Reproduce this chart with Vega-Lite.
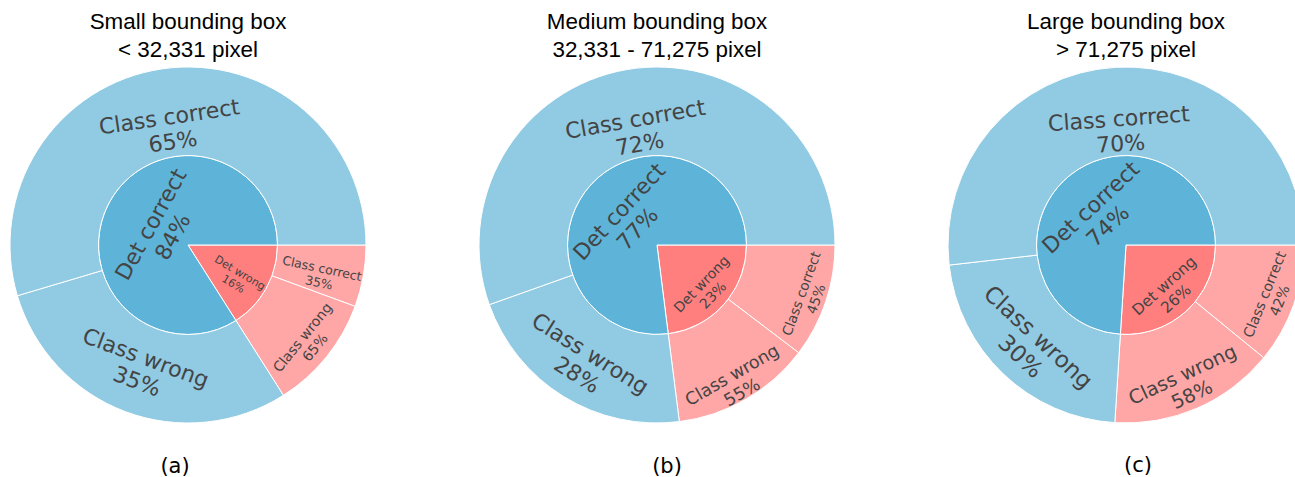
{
  "$schema": "https://vega.github.io/schema/vega-lite/v6.json",
  "background": "white",
  "padding": {"top": 10, "left": 5, "right": 5, "bottom": 5},
  "config": {
    "view": {"stroke": null},
    "title": {"font": "DejaVu Sans", "fontSize": 21, "fontWeight": "normal", "color": "#000", "offset": 31, "anchor": "middle", "orient": "bottom"},
    "header": {"labels": false, "titleOrient": "top", "titleFont": "Liberation Sans", "titleFontSize": 22.4, "titleFontWeight": "normal", "titleColor": "#000", "titleLineHeight": 28, "titlePadding": -6},
    "text": {"font": "DejaVu Sans", "color": "#444", "lineBreak": "\n", "align": "center", "baseline": "middle"}
  },
  "datasets": {
    "rows": [
      {"panel": "a", "caption": "(a)", "ring": "inner", "key": "a-dw", "ord": 1, "branch": "Det wrong", "share": 16, "label": "Det wrong\n16%"},
      {"panel": "a", "caption": "(a)", "ring": "inner", "key": "a-dc", "ord": 2, "branch": "Det correct", "share": 84, "label": "Det correct\n84%"},
      {"panel": "a", "caption": "(a)", "ring": "outer", "key": "a-dw-cc", "ord": 1, "branch": "Det wrong", "share": 5.6, "label": "Class correct\n35%"},
      {"panel": "a", "caption": "(a)", "ring": "outer", "key": "a-dw-cw", "ord": 2, "branch": "Det wrong", "share": 10.4, "label": "Class wrong\n65%"},
      {"panel": "a", "caption": "(a)", "ring": "outer", "key": "a-dc-cw", "ord": 3, "branch": "Det correct", "share": 29.4, "label": "Class wrong\n35%"},
      {"panel": "a", "caption": "(a)", "ring": "outer", "key": "a-dc-cc", "ord": 4, "branch": "Det correct", "share": 54.6, "label": "Class correct\n65%"},
      {"panel": "b", "caption": "(b)", "ring": "inner", "key": "b-dw", "ord": 1, "branch": "Det wrong", "share": 23, "label": "Det wrong\n23%"},
      {"panel": "b", "caption": "(b)", "ring": "inner", "key": "b-dc", "ord": 2, "branch": "Det correct", "share": 77, "label": "Det correct\n77%"},
      {"panel": "b", "caption": "(b)", "ring": "outer", "key": "b-dw-cc", "ord": 1, "branch": "Det wrong", "share": 10.35, "label": "Class correct\n45%"},
      {"panel": "b", "caption": "(b)", "ring": "outer", "key": "b-dw-cw", "ord": 2, "branch": "Det wrong", "share": 12.65, "label": "Class wrong\n55%"},
      {"panel": "b", "caption": "(b)", "ring": "outer", "key": "b-dc-cw", "ord": 3, "branch": "Det correct", "share": 21.56, "label": "Class wrong\n28%"},
      {"panel": "b", "caption": "(b)", "ring": "outer", "key": "b-dc-cc", "ord": 4, "branch": "Det correct", "share": 55.44, "label": "Class correct\n72%"},
      {"panel": "c", "caption": "(c)", "ring": "inner", "key": "c-dw", "ord": 1, "branch": "Det wrong", "share": 26, "label": "Det wrong\n26%"},
      {"panel": "c", "caption": "(c)", "ring": "inner", "key": "c-dc", "ord": 2, "branch": "Det correct", "share": 74, "label": "Det correct\n74%"},
      {"panel": "c", "caption": "(c)", "ring": "outer", "key": "c-dw-cc", "ord": 1, "branch": "Det wrong", "share": 10.92, "label": "Class correct\n42%"},
      {"panel": "c", "caption": "(c)", "ring": "outer", "key": "c-dw-cw", "ord": 2, "branch": "Det wrong", "share": 15.08, "label": "Class wrong\n58%"},
      {"panel": "c", "caption": "(c)", "ring": "outer", "key": "c-dc-cw", "ord": 3, "branch": "Det correct", "share": 22.2, "label": "Class wrong\n30%"},
      {"panel": "c", "caption": "(c)", "ring": "outer", "key": "c-dc-cc", "ord": 4, "branch": "Det correct", "share": 51.8, "label": "Class correct\n70%"}
    ]
  },
  "data": {"name": "rows"},
  "spacing": 103,
  "hconcat": [
    {
      "title": {"text": "(a)", "dx": -13, "offset": 31},
      "transform": [{"filter": "datum.panel === 'a'"}],
      "facet": {"column": {"field": "caption", "type": "nominal", "title": ["Small bounding box", "< 32,331 pixel"]}},
      "spec": {
        "width": 366, "height": 356,
        "encoding": {
          "theta": {"field": "share", "type": "quantitative", "stack": true, "scale": {"domain": [0, 100], "range": [1.5707963268, 7.853981634]}},
          "order": {"field": "ord", "type": "quantitative", "sort": "ascending"}
        },
        "layer": [
          {"transform": [{"filter": "datum.ring === 'inner'"}], "mark": {"type": "arc", "radius": 89.5, "radius2": 0, "stroke": "#fff", "strokeWidth": 1},
           "encoding": {"color": {"field": "branch", "type": "nominal", "legend": null, "scale": {"domain": ["Det correct", "Det wrong"], "range": ["#5db4d8", "#ff7f7f"]}}}},
          {"transform": [{"filter": "datum.ring === 'outer'"}], "mark": {"type": "arc", "radius": 178, "radius2": 89.5, "stroke": "#fff", "strokeWidth": 1},
           "encoding": {"color": {"field": "branch", "type": "nominal", "legend": null, "scale": {"domain": ["Det correct", "Det wrong"], "range": ["#90cae3", "#ffa6a6"]}}}},
          {"transform": [{"filter": "datum.ring === 'inner'"}], "mark": {"type": "text", "radius": 42, "angle": -61, "fontSize": 22, "lineHeight": 25},
           "encoding": {"detail": {"field": "key"}, "text": {"condition": {"test": "datum.key === 'a-dc'", "field": "label"}, "value": ""}}},
          {"transform": [{"filter": "datum.ring === 'inner'"}], "mark": {"type": "text", "radius": 59, "angle": 31, "fontSize": 11, "lineHeight": 13},
           "encoding": {"detail": {"field": "key"}, "text": {"condition": {"test": "datum.key === 'a-dw'", "field": "label"}, "value": ""}}},
          {"transform": [{"filter": "datum.ring === 'outer'"}], "mark": {"type": "text", "radius": 129, "angle": -8.3, "fontSize": 22, "lineHeight": 25},
           "encoding": {"detail": {"field": "key"}, "text": {"condition": {"test": "datum.key === 'a-dc-cc'", "field": "label"}, "value": ""}}},
          {"transform": [{"filter": "datum.ring === 'outer'"}], "mark": {"type": "text", "radius": 121, "angle": 20.5, "fontSize": 22, "lineHeight": 25},
           "encoding": {"detail": {"field": "key"}, "text": {"condition": {"test": "datum.key === 'a-dc-cw'", "field": "label"}, "value": ""}}},
          {"transform": [{"filter": "datum.ring === 'outer'"}], "mark": {"type": "text", "radius": 136, "angle": 12, "fontSize": 12.5, "lineHeight": 14.5},
           "encoding": {"detail": {"field": "key"}, "text": {"condition": {"test": "datum.key === 'a-dw-cc'", "field": "label"}, "value": ""}}},
          {"transform": [{"filter": "datum.ring === 'outer'"}], "mark": {"type": "text", "radius": 148, "angle": -51, "fontSize": 14, "lineHeight": 16},
           "encoding": {"detail": {"field": "key"}, "text": {"condition": {"test": "datum.key === 'a-dw-cw'", "field": "label"}, "value": ""}}}
        ],
        "resolve": {"scale": {"color": "independent"}}
      }
    },
    {
      "title": {"text": "(b)", "dx": 10, "offset": 29},
      "transform": [{"filter": "datum.panel === 'b'"}],
      "facet": {"column": {"field": "caption", "type": "nominal", "title": ["Medium bounding box", "32,331 - 71,275 pixel"]}},
      "spec": {
        "width": 366, "height": 356,
        "encoding": {
          "theta": {"field": "share", "type": "quantitative", "stack": true, "scale": {"domain": [0, 100], "range": [1.5707963268, 7.853981634]}},
          "order": {"field": "ord", "type": "quantitative", "sort": "ascending"}
        },
        "layer": [
          {"transform": [{"filter": "datum.ring === 'inner'"}], "mark": {"type": "arc", "radius": 89.5, "radius2": 0, "stroke": "#fff", "strokeWidth": 1},
           "encoding": {"color": {"field": "branch", "type": "nominal", "legend": null, "scale": {"domain": ["Det correct", "Det wrong"], "range": ["#5db4d8", "#ff7f7f"]}}}},
          {"transform": [{"filter": "datum.ring === 'outer'"}], "mark": {"type": "arc", "radius": 178, "radius2": 89.5, "stroke": "#fff", "strokeWidth": 1},
           "encoding": {"color": {"field": "branch", "type": "nominal", "legend": null, "scale": {"domain": ["Det correct", "Det wrong"], "range": ["#90cae3", "#ffa6a6"]}}}},
          {"transform": [{"filter": "datum.ring === 'inner'"}], "mark": {"type": "text", "radius": 50, "angle": -47, "fontSize": 22, "lineHeight": 25},
           "encoding": {"detail": {"field": "key"}, "text": {"condition": {"test": "datum.key === 'b-dc'", "field": "label"}, "value": ""}}},
          {"transform": [{"filter": "datum.ring === 'inner'"}], "mark": {"type": "text", "radius": 60, "angle": -46, "fontSize": 14, "lineHeight": 16},
           "encoding": {"detail": {"field": "key"}, "text": {"condition": {"test": "datum.key === 'b-dw'", "field": "label"}, "value": ""}}},
          {"transform": [{"filter": "datum.ring === 'outer'"}], "mark": {"type": "text", "radius": 127, "angle": -10, "fontSize": 22, "lineHeight": 25},
           "encoding": {"detail": {"field": "key"}, "text": {"condition": {"test": "datum.key === 'b-dc-cc'", "field": "label"}, "value": ""}}},
          {"transform": [{"filter": "datum.ring === 'outer'"}], "mark": {"type": "text", "radius": 128, "angle": 32, "fontSize": 22, "lineHeight": 25},
           "encoding": {"detail": {"field": "key"}, "text": {"condition": {"test": "datum.key === 'b-dc-cw'", "field": "label"}, "value": ""}}},
          {"transform": [{"filter": "datum.ring === 'outer'"}], "mark": {"type": "text", "radius": 153, "angle": -70, "fontSize": 13.7, "lineHeight": 15.7},
           "encoding": {"detail": {"field": "key"}, "text": {"condition": {"test": "datum.key === 'b-dw-cc'", "field": "label"}, "value": ""}}},
          {"transform": [{"filter": "datum.ring === 'outer'"}], "mark": {"type": "text", "radius": 151, "angle": -30, "fontSize": 17.4, "lineHeight": 20},
           "encoding": {"detail": {"field": "key"}, "text": {"condition": {"test": "datum.key === 'b-dw-cw'", "field": "label"}, "value": ""}}}
        ],
        "resolve": {"scale": {"color": "independent"}}
      }
    },
    {
      "title": {"text": "(c)", "dx": 12, "offset": 26},
      "transform": [{"filter": "datum.panel === 'c'"}],
      "facet": {"column": {"field": "caption", "type": "nominal", "title": ["Large bounding box", "> 71,275 pixel"]}},
      "spec": {
        "width": 366, "height": 356,
        "encoding": {
          "theta": {"field": "share", "type": "quantitative", "stack": true, "scale": {"domain": [0, 100], "range": [1.5707963268, 7.853981634]}},
          "order": {"field": "ord", "type": "quantitative", "sort": "ascending"}
        },
        "layer": [
          {"transform": [{"filter": "datum.ring === 'inner'"}], "mark": {"type": "arc", "radius": 89.5, "radius2": 0, "stroke": "#fff", "strokeWidth": 1},
           "encoding": {"color": {"field": "branch", "type": "nominal", "legend": null, "scale": {"domain": ["Det correct", "Det wrong"], "range": ["#5db4d8", "#ff7f7f"]}}}},
          {"transform": [{"filter": "datum.ring === 'outer'"}], "mark": {"type": "arc", "radius": 178, "radius2": 89.5, "stroke": "#fff", "strokeWidth": 1},
           "encoding": {"color": {"field": "branch", "type": "nominal", "legend": null, "scale": {"domain": ["Det correct", "Det wrong"], "range": ["#90cae3", "#ffa6a6"]}}}},
          {"transform": [{"filter": "datum.ring === 'inner'"}], "mark": {"type": "text", "radius": 51, "angle": -43, "fontSize": 22, "lineHeight": 25},
           "encoding": {"detail": {"field": "key"}, "text": {"condition": {"test": "datum.key === 'c-dc'", "field": "label"}, "value": ""}}},
          {"transform": [{"filter": "datum.ring === 'inner'"}], "mark": {"type": "text", "radius": 56, "angle": -42, "fontSize": 15.4, "lineHeight": 17.5},
           "encoding": {"detail": {"field": "key"}, "text": {"condition": {"test": "datum.key === 'c-dw'", "field": "label"}, "value": ""}}},
          {"transform": [{"filter": "datum.ring === 'outer'"}], "mark": {"type": "text", "radius": 126, "angle": -4, "fontSize": 22, "lineHeight": 25},
           "encoding": {"detail": {"field": "key"}, "text": {"condition": {"test": "datum.key === 'c-dc-cc'", "field": "label"}, "value": ""}}},
          {"transform": [{"filter": "datum.ring === 'outer'"}], "mark": {"type": "text", "radius": 128, "angle": 43, "fontSize": 23, "lineHeight": 26},
           "encoding": {"detail": {"field": "key"}, "text": {"condition": {"test": "datum.key === 'c-dc-cw'", "field": "label"}, "value": ""}}},
          {"transform": [{"filter": "datum.ring === 'outer'"}], "mark": {"type": "text", "radius": 148, "angle": -68, "fontSize": 14.2, "lineHeight": 16.3},
           "encoding": {"detail": {"field": "key"}, "text": {"condition": {"test": "datum.key === 'c-dw-cc'", "field": "label"}, "value": ""}}},
          {"transform": [{"filter": "datum.ring === 'outer'"}], "mark": {"type": "text", "radius": 142, "angle": -25, "fontSize": 19.3, "lineHeight": 22},
           "encoding": {"detail": {"field": "key"}, "text": {"condition": {"test": "datum.key === 'c-dw-cw'", "field": "label"}, "value": ""}}}
        ],
        "resolve": {"scale": {"color": "independent"}}
      }
    }
  ]
}
